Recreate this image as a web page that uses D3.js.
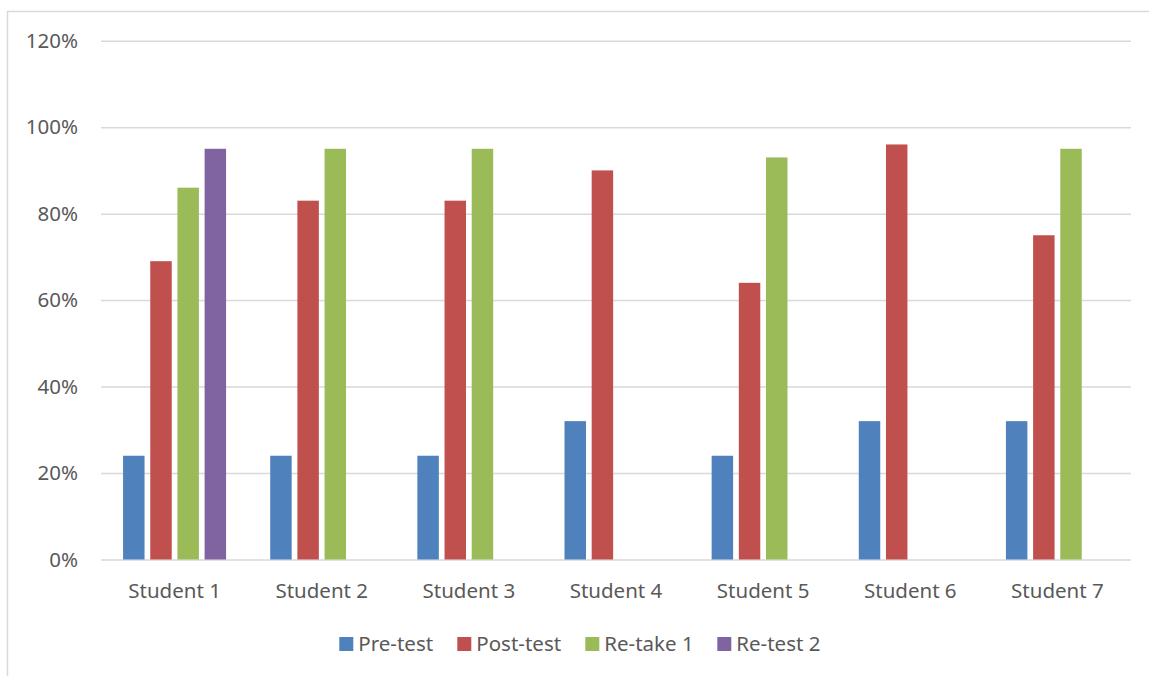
<!DOCTYPE html>
<html><head><meta charset="utf-8">
<script src="https://cdn.jsdelivr.net/npm/d3@7"></script>
<style>
html,body{margin:0;padding:0;background:#fff;}
text{font-family:"Noto Sans","Open Sans",sans-serif;fill:#595959;}
</style></head>
<body>
<svg id="chart" width="1149" height="676"></svg>
<script>
const students = ["Student 1","Student 2","Student 3","Student 4","Student 5","Student 6","Student 7"];
const seriesNames = ["Pre-test","Post-test","Re-take 1","Re-test 2"];
const preTest  = [0.24,0.24,0.24,0.32,0.24,0.32,0.32];
const postTest = [0.69,0.83,0.83,0.90,0.64,0.96,0.75];
const retake1  = [0.86,0.95,0.95,null,0.93,null,0.95];
const retest2  = [0.95,null,null,null,null,null,null];
const yTicks = [0,0.2,0.4,0.6,0.8,1.0,1.2];
const colors = ["#4F81BD","#C0504D","#9BBB59","#8064A2"];

const values = [preTest, postTest, retake1, retest2];
const svg = d3.select("#chart");
const FS = 20.5;

// outer frame
svg.append("line").attr("x1",7.5).attr("x2",7.5).attr("y1",11).attr("y2",676).attr("stroke","#D9D9D9").attr("stroke-width",1.5);
svg.append("line").attr("x1",7).attr("x2",1149).attr("y1",11.5).attr("y2",11.5).attr("stroke","#D9D9D9").attr("stroke-width",1.5);

const plotLeft = 101, plotRight = 1131, plotTop = 40.7, plotBottom = 559.5;
const y = d3.scaleLinear().domain([0,1.2]).range([plotBottom, plotTop]);
const x0 = d3.scaleBand().domain(students).range([plotLeft,plotRight]).paddingInner(0.3).paddingOuter(0.15);
const x1 = d3.scaleBand().domain(seriesNames).range([0,x0.bandwidth()]).paddingInner(0.21).paddingOuter(0);

// gridlines + y labels
const yAxis = d3.axisLeft(y).tickValues(yTicks).tickFormat(d3.format(".0%")).tickSize(-(plotRight-plotLeft)).tickPadding(23);
const gy = svg.append("g").attr("transform",`translate(${plotLeft},0)`).call(yAxis);
gy.select(".domain").remove();
gy.selectAll(".tick line").attr("stroke","#D9D9D9").attr("stroke-width",1.5);
gy.selectAll(".tick text").attr("font-size",FS).attr("fill","#595959").style("font-family",'"Noto Sans","Open Sans",sans-serif');

// x axis labels
const xAxis = d3.axisBottom(x0).tickSize(0).tickPadding(24);
const gx = svg.append("g").attr("transform",`translate(0,${plotBottom})`).call(xAxis);
gx.select(".domain").remove();
gx.selectAll(".tick text").attr("font-size",FS).attr("fill","#595959").style("font-family",'"Noto Sans","Open Sans",sans-serif');

// bars
seriesNames.forEach((s,si)=>{
  const data = students.map((st,i)=>({st, v: values[si][i]})).filter(d=>d.v!=null);
  svg.append("g").selectAll("rect").data(data).join("rect")
    .attr("x", d=>x0(d.st)+x1(s))
    .attr("width", x1.bandwidth())
    .attr("y", d=>y(d.v))
    .attr("height", d=>y(0)-y(d.v))
    .attr("fill", colors[si]);
});

// legend
const legendX = [339.3, 457.3, 585.3, 717.3];
const lg = svg.append("g");
seriesNames.forEach((s,i)=>{
  lg.append("rect").attr("x",legendX[i]).attr("y",637).attr("width",14).attr("height",14).attr("fill",colors[i]);
  lg.append("text").attr("x",legendX[i]+19).attr("y",644).attr("dy","0.35em").attr("font-size",FS).text(s);
});
</script>
</body></html>
